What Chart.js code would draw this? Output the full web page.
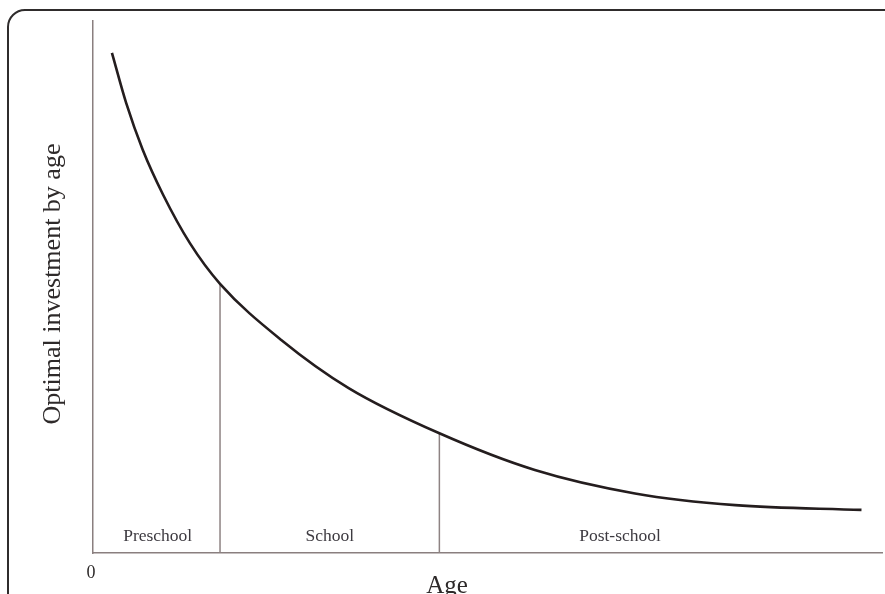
<!DOCTYPE html>
<html lang="en">
<head>
  <meta charset="UTF-8">
  <title>Optimal investment by age</title>
  <script src="https://cdn.jsdelivr.net/npm/chart.js"></script>
  <style>
    html, body { margin: 0; padding: 0; width: 885px; height: 594px; overflow: hidden; background: #fff; }
    #frame {
      position: absolute; left: 7px; top: 9px; width: 1000px; height: 1000px;
      border: 2px solid #2f2c2c; border-radius: 18px; box-sizing: border-box;
    }
    #wrap { position: absolute; left: 0; top: 0; width: 885px; height: 594px; }
  </style>
</head>
<body>
  <div id="frame"></div>
  <div id="wrap"><canvas id="chart" width="885" height="594"></canvas></div>

  <script>
    // curve (age units 0-100, investment 0-100)
    var ages = [2.4, 4.2, 6.3, 8.9, 12.3, 16.1, 23.9, 32.4, 43.9, 56.0, 68.7, 81.4, 97.4];
    var investment = [94.0, 84.6, 75.8, 67.3, 58.2, 50.6, 40.0, 31.0, 22.5, 15.6, 11.2, 9.0, 8.1];

    // stage boundaries (age) and curve height there
    var boundaryAges = [16.1, 43.9];
    var boundaryHeights = [50.6, 22.5];

    // stage names and where their labels sit
    var stageNames = ['Preschool', 'School', 'Post-school'];
    var stageLabelAges = [8.2, 30.0, 66.8];
    var stageLabelHeight = 3.2;

    var xTickValues = [0];
    var xTickLabels = ['0'];
    var xTitle = 'Age';
    var yTitle = 'Optimal investment by age';

    var serif = '"Liberation Serif", "DejaVu Serif", serif';

    var curve = ages.map(function(a, i) { return { x: a, y: investment[i] }; });

    var datasets = [{
      data: curve,
      borderColor: '#241d1e',
      borderWidth: 2.6,
      pointRadius: 0,
      cubicInterpolationMode: 'monotone',
      fill: false
    }];

    boundaryAges.forEach(function(a, i) {
      datasets.push({
        data: [{ x: a, y: 0 }, { x: a, y: boundaryHeights[i] }],
        borderColor: '#8e8383',
        borderWidth: 1.5,
        pointRadius: 0,
        fill: false
      });
    });

    // draws stage names, the 0 tick and the axis titles
    var textPlugin = {
      id: 'texts',
      afterDraw: function(chart) {
        var ctx = chart.ctx;
        var xs = chart.scales.x, ys = chart.scales.y;
        ctx.save();
        ctx.fillStyle = '#3d3a40';
        ctx.textAlign = 'center';
        ctx.textBaseline = 'middle';
        ctx.font = '17.5px ' + serif;
        stageNames.forEach(function(name, i) {
          ctx.fillText(name, xs.getPixelForValue(stageLabelAges[i]), ys.getPixelForValue(stageLabelHeight));
        });

        ctx.fillStyle = '#2e2a2a';
        ctx.textBaseline = 'alphabetic';
        ctx.font = '18px ' + serif;
        xTickValues.forEach(function(v, i) {
          ctx.fillText(xTickLabels[i], xs.getPixelForValue(v) - 2, 578);
        });

        ctx.font = '25px ' + serif;
        ctx.fillText(xTitle, 447, 593);

        ctx.textBaseline = 'middle';
        ctx.font = '26px ' + serif;
        ctx.translate(53, 284);
        ctx.rotate(-Math.PI / 2);
        ctx.fillText(yTitle, 0, 0);
        ctx.restore();
      }
    };

    new Chart(document.getElementById('chart'), {
      type: 'line',
      data: { datasets: datasets },
      options: {
        responsive: false,
        animation: false,
        layout: { padding: { left: 93, right: 3, top: 21, bottom: 41 } },
        plugins: { legend: { display: false }, tooltip: { enabled: false } },
        scales: {
          x: {
            type: 'linear', min: 0, max: 100,
            afterFit: function(s) { s.height = 0; },
            grid: { display: false, drawTicks: false },
            border: { display: true, color: '#8a7f7f', width: 1.5 },
            ticks: { display: false }
          },
          y: {
            type: 'linear', min: 0, max: 100,
            afterFit: function(s) { s.width = 0; },
            grid: { display: false, drawTicks: false },
            border: { display: true, color: '#8a7f7f', width: 1.5 },
            ticks: { display: false }
          }
        }
      },
      plugins: [textPlugin]
    });
  </script>
</body>
</html>
